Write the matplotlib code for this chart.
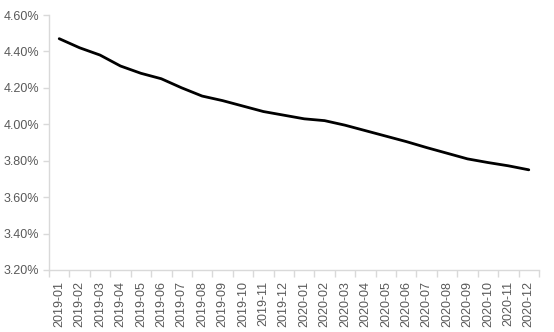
import matplotlib
matplotlib.use("Agg")
import matplotlib.pyplot as plt
from matplotlib.ticker import FuncFormatter, FixedLocator

months = ["2019-01", "2019-02", "2019-03", "2019-04", "2019-05", "2019-06",
          "2019-07", "2019-08", "2019-09", "2019-10", "2019-11", "2019-12",
          "2020-01", "2020-02", "2020-03", "2020-04", "2020-05", "2020-06",
          "2020-07", "2020-08", "2020-09", "2020-10", "2020-11", "2020-12"]
rate = [4.47, 4.42, 4.38, 4.32, 4.28, 4.25, 4.20, 4.155, 4.13, 4.10, 4.07, 4.05,
        4.03, 4.02, 3.995, 3.965, 3.935, 3.905, 3.872, 3.841, 3.81, 3.79, 3.772, 3.75]
y_ticks = [3.20, 3.40, 3.60, 3.80, 4.00, 4.20, 4.40, 4.60]

plt.rcParams["font.family"] = ["Liberation Sans", "DejaVu Sans"]
text_color = "#595959"
axis_color = "#d9d9d9"

fig = plt.figure(figsize=(5.54, 3.32), dpi=100)
ax = fig.add_axes([49 / 554, 1 - 270 / 332, 490 / 554, 255 / 332])

x = list(range(len(months)))
ax.plot(x, rate, color="black", linewidth=2.0, solid_joinstyle="round",
        solid_capstyle="round")

ax.set_xlim(-0.5, len(months) - 0.5)
ax.set_ylim(y_ticks[0], y_ticks[-1])
ax.set_yticks(y_ticks)
ax.yaxis.set_major_formatter(FuncFormatter(lambda v, _: f"{v:.2f}%"))

ax.set_xticks(x)
ax.set_xticklabels(months, rotation=90)
ax.xaxis.set_minor_locator(FixedLocator([i - 0.5 for i in range(len(months) + 1)]))
ax.tick_params(axis="x", which="major", length=0, pad=8, labelsize=9,
               labelcolor=text_color)
ax.tick_params(axis="x", which="minor", length=5, width=1, color=axis_color,
               direction="out")
ax.tick_params(axis="y", which="major", length=4, width=1, color=axis_color,
               pad=3, labelsize=9, labelcolor=text_color)

for side in ("top", "right"):
    ax.spines[side].set_visible(False)
for side in ("left", "bottom"):
    ax.spines[side].set_color(axis_color)
    ax.spines[side].set_linewidth(1)

fig.savefig("out.png", dpi=100, facecolor="white")
